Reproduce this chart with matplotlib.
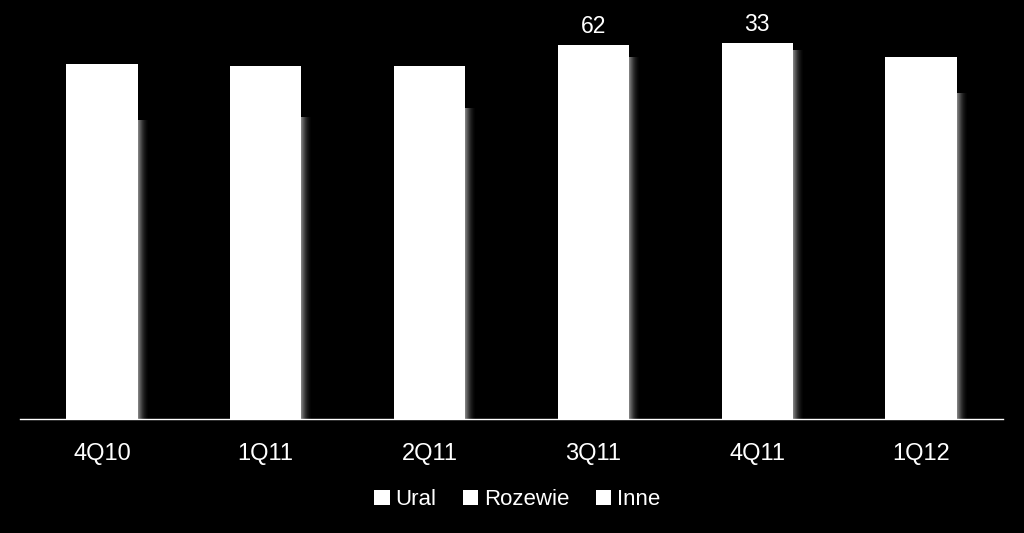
import numpy as np
import matplotlib.pyplot as plt
from matplotlib.patches import Patch

quarters = ["4Q10", "1Q11", "2Q11", "3Q11", "4Q11", "1Q12"]
ural     = [1495, 1510, 1555, 1810, 1845, 1630]
rozewie  = [275, 240, 195, 62, 33, 180]
inne     = [5, 15, 15, 0, 0, 0]
shown_labels = {3: 62, 4: 33}   # only labels above the bars are visible

FONT = ["Liberation Sans Narrow", "Liberation Sans", "DejaVu Sans"]
plt.rcParams["font.family"] = FONT

fig = plt.figure(figsize=(10.24, 5.33), dpi=100, facecolor="black")
ax = fig.add_axes([0.0195, 0.214, 0.96, 0.786], facecolor="black")

x = np.arange(len(quarters))
width = 0.435
px = 1 / 163.8   # one pixel in data units along x

# soft shadow on the right of the lower segment
alphas = [0.5, 0.42, 0.34, 0.27, 0.2, 0.15, 0.1, 0.07, 0.04, 0.02]
for k, a in enumerate(alphas):
    ax.bar(x + width / 2 + px * (k + 0.5), ural, width=px, color="white",
           alpha=a, linewidth=0, zorder=1)

ax.bar(x, ural, width=width, color="white", linewidth=0, zorder=2, label="Ural")
ax.bar(x, rozewie, width=width, bottom=ural, color="white", linewidth=0,
       zorder=2, label="Rozewie")
bottom2 = np.array(ural) + np.array(rozewie)
ax.bar(x, inne, width=width, bottom=bottom2, color="white", linewidth=0,
       zorder=2, label="Inne")

tops = bottom2 + np.array(inne)
for i, v in shown_labels.items():
    ax.text(x[i], tops[i] + 35, str(v), ha="center", va="bottom",
            color="white", fontsize=16.5)

ax.set_xlim(-0.5, len(quarters) - 0.5)
ax.set_ylim(0, 2095)
ax.set_xticks(x)
ax.set_xticklabels(quarters, color="white", fontsize=17)
ax.tick_params(axis="x", length=0, pad=17)
ax.set_yticks([])
for s in ["top", "left", "right"]:
    ax.spines[s].set_visible(False)
ax.spines["bottom"].set_color("white")
ax.spines["bottom"].set_linewidth(1)

handles = [Patch(facecolor="white", edgecolor="none", label=n)
           for n in ["Ural", "Rozewie", "Inne"]]
fig.legend(handles=handles, loc="center", bbox_to_anchor=(0.505, 0.062),
           ncol=3, frameon=False, fontsize=16, labelcolor="white",
           handlelength=0.7, handleheight=0.7, handletextpad=0.25,
           columnspacing=1.2)

fig.savefig("out.png", dpi=100, facecolor="black")
